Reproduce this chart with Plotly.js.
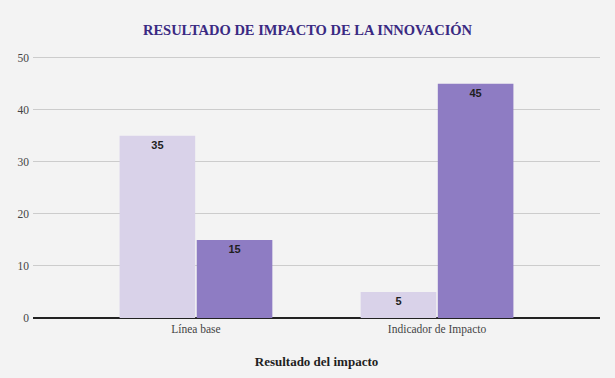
<!DOCTYPE html>
<html>
<head>
<meta charset="utf-8">
<script src="https://cdn.plot.ly/plotly-3.0.1.min.js"></script>
<style>html,body{margin:0;padding:0;background:#f3f3f3;}#chart{width:615px;height:378px;}</style>
</head>
<body>
<div id="chart"></div>
<script>
const categories = ["Línea base", "Indicador de Impacto"];
const series1 = [35, 5];
const series2 = [15, 45];
const tickVals = [0, 10, 20, 30, 40, 50];

const SERIF = "'Liberation Serif', 'Times New Roman', serif";
const labelFont = {family: "'Liberation Sans', Arial, sans-serif", size: 11, color: "#1f1f1f", weight: "bold"};
function barTrace(vals, color, name) {
  return {
    type: "bar", x: categories, y: vals, name: name,
    marker: {color: color},
    text: vals.map(String), textposition: "inside", insidetextanchor: "end",
    textangle: 0, constraintext: "none",
    textfont: labelFont, insidetextfont: labelFont,
    hoverinfo: "none", showlegend: false, cliponaxis: false
  };
}
const data = [barTrace(series1, "#d9d2e9", "Serie 1"), barTrace(series2, "#8e7cc3", "Serie 2")];
const layout = {
  width: 615, height: 378,
  paper_bgcolor: "#f3f3f3", plot_bgcolor: "#f3f3f3",
  margin: {l: 33, r: 15, t: 55, b: 60},
  barmode: "group", bargap: 0.36, bargroupgap: 0.02,
  title: {text: "<b>RESULTADO DE IMPACTO DE LA INNOVACIÓN</b>", font: {family: SERIF, size: 14.5, color: "#3a2a82"}, x: 0.5, xanchor: "center", y: 0.92, yanchor: "middle"},
  xaxis: {
    range: [-0.676, 1.676], showgrid: false, zeroline: false,
    showline: true, linecolor: "#222", linewidth: 1.3,
    ticks: "", tickfont: {family: SERIF, size: 11.5, color: "#444"},
    title: {text: "<b>Resultado del impacto</b>", font: {family: SERIF, size: 13, color: "#1f1f1f"}, standoff: 21}
  },
  yaxis: {
    range: [0, 50.5], tickvals: tickVals, showgrid: true, gridcolor: "#cccccc", gridwidth: 1,
    zeroline: true, zerolinecolor: "#222", zerolinewidth: 1.3,
    ticks: "", tickfont: {family: SERIF, size: 11.5, color: "#444"},
    ticklabelstandoff: 3
  },
  font: {family: SERIF}
};
Plotly.newPlot("chart", data, layout, {displayModeBar: false, staticPlot: true});
</script>
</body>
</html>
